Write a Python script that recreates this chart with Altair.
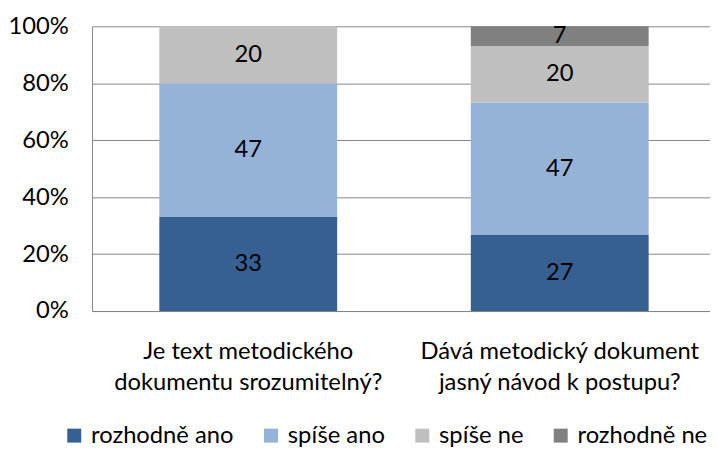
import altair as alt
import pandas as pd

questions = ["Je text metodického|dokumentu srozumitelný?",
             "Dává metodický dokument|jasný návod k postupu?"]
answers = ["rozhodně ano", "spíše ano", "spíše ne", "rozhodně ne"]
colors = ["#376092", "#95B3D7", "#BFBFBF", "#808080"]
values_q1 = [33, 47, 20, 0]
values_q2 = [27, 47, 20, 7]

rows = []
for q, vals in zip(questions, [values_q1, values_q2]):
    for i, (a, v) in enumerate(zip(answers, vals)):
        rows.append({"q": q, "answer": a, "value": v, "order": i})
df = pd.DataFrame(rows)

FONT = "Lato"
FS = 24

base = alt.Chart(df).transform_stack(
    stack="value", groupby=["q"], as_=["y0", "y1"], offset="normalize",
    sort=[alt.SortField("order", order="ascending")]
).transform_calculate(mid="(datum.y0 + datum.y1) / 2")

x = alt.X("q:N", sort=questions, title=None,
          scale=alt.Scale(range=[0, 631], paddingInner=0.429, paddingOuter=0.216),
          axis=alt.Axis(labelExpr="split(datum.label, '|')", labelAngle=0,
                        labelFont=FONT, labelFontSize=FS, labelColor="black",
                        labelPadding=29, labelLineHeight=31, ticks=False,
                        domainColor="#868686", grid=False, labelLimit=400))

bars = base.mark_bar().encode(
    x=x,
    y=alt.Y("y0:Q", title=None, scale=alt.Scale(domain=[0, 1]),
            axis=alt.Axis(format=".0%", values=[0, 0.2, 0.4, 0.6, 0.8, 1.0],
                          labelFont=FONT, labelFontSize=FS, labelColor="black",
                          labelPadding=24, ticks=False, domainColor="#868686",
                          gridColor="#868686", gridWidth=1)),
    y2="y1:Q",
    color=alt.Color("answer:N", sort=answers,
                    scale=alt.Scale(domain=answers, range=colors),
                    legend=alt.Legend(title=None, orient="none", direction="horizontal",
                                      legendX=-30, legendY=402, symbolType="square",
                                      symbolSize=200, symbolStrokeWidth=0,
                                      labelFont=FONT, labelFontSize=FS, labelColor="black",
                                      labelOffset=5, columnPadding=25, labelLimit=300)),
)

labels = base.transform_filter("datum.value > 0").mark_text(
    font=FONT, fontSize=FS, color="black", baseline="middle"
).encode(
    x=alt.X("q:N", sort=questions),
    y="mid:Q",
    text="value:Q",
)

chart = (bars + labels).properties(
    width=625, height=288,
    autosize=alt.AutoSizeParams(type="none"),
    padding={"left": 85, "top": 16, "right": 0, "bottom": 135},
).configure_view(stroke=None)

chart.save("out.html", embed_options={"renderer": "svg", "actions": False})
